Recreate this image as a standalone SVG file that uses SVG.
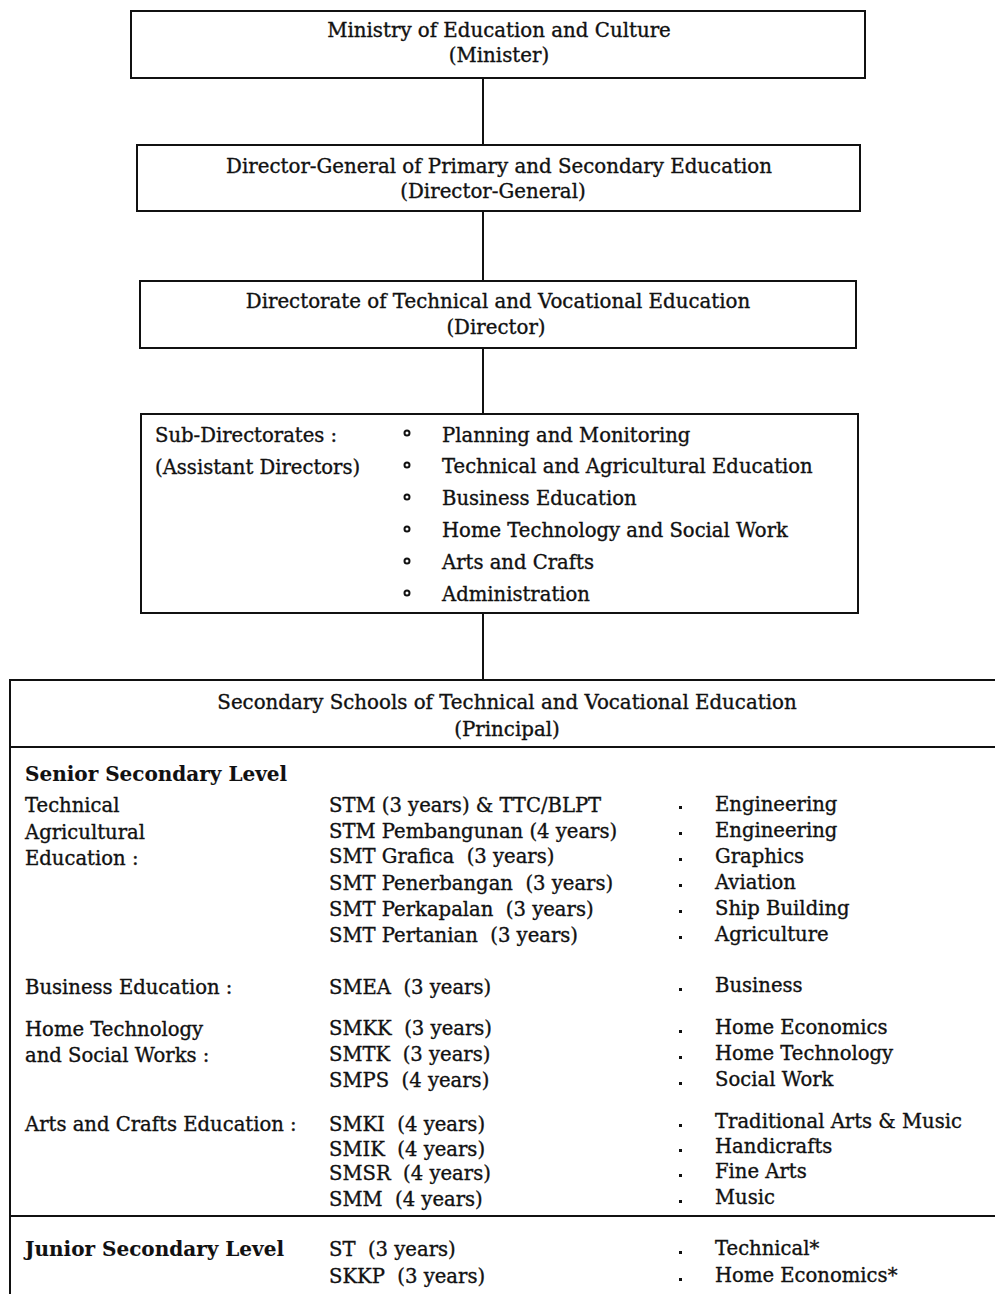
<svg xmlns="http://www.w3.org/2000/svg" width="995" height="1294" viewBox="0 0 995 1294">
<style>
text{font-family:"DejaVu Serif","Liberation Serif",serif;font-size:19.6px;fill:#111;stroke:#111;stroke-width:0.35}
.c{text-anchor:middle}
.t{font-size:19.8px}
.h{font-weight:bold;font-size:20px;stroke-width:0.1}
.box{fill:none;stroke:#111;stroke-width:2}
.ln{stroke:#111;stroke-width:2;fill:none}
.b{fill:#111}
</style>
<rect width="995" height="1294" fill="#fff"/>
<g id="connectors">
<line class="ln" x1="483" y1="78" x2="483" y2="145"/>
<line class="ln" x1="483" y1="211" x2="483" y2="281"/>
<line class="ln" x1="483" y1="348" x2="483" y2="414"/>
<line class="ln" x1="483" y1="613" x2="483" y2="680"/>
</g>
<g id="ministry">
<rect class="box" x="131" y="11" width="734" height="67"/>
<text class="c t" x="499" y="37">Ministry of Education and Culture</text>
<text class="c t" x="499" y="62">(Minister)</text>
</g>
<g id="director-general">
<rect class="box" x="137" y="145" width="723" height="66"/>
<text class="c t" x="499" y="173">Director-General of Primary and Secondary Education</text>
<text class="c t" x="493" y="198">(Director-General)</text>
</g>
<g id="directorate">
<rect class="box" x="140" y="281" width="716" height="67"/>
<text class="c t" x="498" y="308">Directorate of Technical and Vocational Education</text>
<text class="c t" x="496" y="334">(Director)</text>
</g>
<g id="sub-directorates">
<rect class="box" x="141" y="414" width="717" height="199"/>
<text x="155" y="442">Sub-Directorates :</text>
<text x="155" y="474">(Assistant Directors)</text>
<g fill="none" stroke="#111" stroke-width="2">
<circle cx="407" cy="433" r="2.5"/><circle cx="407" cy="465" r="2.5"/><circle cx="407" cy="497" r="2.5"/>
<circle cx="407" cy="529" r="2.5"/><circle cx="407" cy="561" r="2.5"/><circle cx="407" cy="593" r="2.5"/>
</g>
<text x="442" y="442">Planning and Monitoring</text>
<text x="442" y="473">Technical and Agricultural Education</text>
<text x="442" y="505">Business Education</text>
<text x="442" y="537">Home Technology and Social Work</text>
<text x="442" y="569">Arts and Crafts</text>
<text x="442" y="601">Administration</text>
</g>
<g id="secondary-schools">
<path class="ln" d="M10 1294 V680 H995 M10 747 H995 M10 1216 H995"/>
<text class="c t" x="507" y="709">Secondary Schools of Technical and Vocational Education</text>
<text class="c t" x="507" y="736">(Principal)</text>

<text class="h" x="25" y="781">Senior Secondary Level</text>

<text x="25" y="812">Technical</text>
<text x="25" y="839">Agricultural</text>
<text x="25" y="865">Education :</text>

<text x="329" y="812">STM (3 years) &amp; TTC/BLPT</text>
<text x="329" y="838">STM Pembangunan (4 years)</text>
<text x="329" y="863">SMT Grafica&#160; (3 years)</text>
<text x="329" y="890">SMT Penerbangan&#160; (3 years)</text>
<text x="329" y="916">SMT Perkapalan&#160; (3 years)</text>
<text x="329" y="942">SMT Pertanian&#160; (3 years)</text>

<g class="b">
<rect x="679" y="806" width="3" height="3"/><rect x="679" y="832" width="3" height="3"/><rect x="679" y="858" width="3" height="3"/>
<rect x="679" y="884" width="3" height="3"/><rect x="679" y="910" width="3" height="3"/><rect x="679" y="936" width="3" height="3"/>
<rect x="679" y="988" width="3" height="3"/>
<rect x="679" y="1030" width="3" height="3"/><rect x="679" y="1056" width="3" height="3"/><rect x="679" y="1082" width="3" height="3"/>
<rect x="679" y="1124" width="3" height="3"/><rect x="679" y="1149" width="3" height="3"/><rect x="679" y="1174" width="3" height="3"/><rect x="679" y="1200" width="3" height="3"/>
<rect x="679" y="1251" width="3" height="3"/><rect x="679" y="1278" width="3" height="3"/>
</g>

<text x="715" y="811">Engineering</text>
<text x="715" y="837">Engineering</text>
<text x="715" y="863">Graphics</text>
<text x="715" y="889">Aviation</text>
<text x="715" y="915">Ship Building</text>
<text x="715" y="941">Agriculture</text>

<text x="25" y="994">Business Education :</text>
<text x="329" y="994">SMEA&#160; (3 years)</text>
<text x="715" y="992">Business</text>

<text x="25" y="1036">Home Technology</text>
<text x="25" y="1062">and Social Works :</text>
<text x="329" y="1035">SMKK&#160; (3 years)</text>
<text x="329" y="1061">SMTK&#160; (3 years)</text>
<text x="329" y="1087">SMPS&#160; (4 years)</text>
<text x="715" y="1034">Home Economics</text>
<text x="715" y="1060">Home Technology</text>
<text x="715" y="1086">Social Work</text>

<text x="25" y="1131">Arts and Crafts Education :</text>
<text x="329" y="1131">SMKI&#160; (4 years)</text>
<text x="329" y="1156">SMIK&#160; (4 years)</text>
<text x="329" y="1180">SMSR&#160; (4 years)</text>
<text x="329" y="1206">SMM&#160; (4 years)</text>
<text x="715" y="1128">Traditional Arts &amp; Music</text>
<text x="715" y="1153">Handicrafts</text>
<text x="715" y="1178">Fine Arts</text>
<text x="715" y="1204">Music</text>

<text class="h" x="25" y="1256">Junior Secondary Level</text>
<text x="329" y="1256">ST&#160; (3 years)</text>
<text x="329" y="1283">SKKP&#160; (3 years)</text>
<text x="715" y="1255">Technical*</text>
<text x="715" y="1282">Home Economics*</text>
</g>
</svg>
